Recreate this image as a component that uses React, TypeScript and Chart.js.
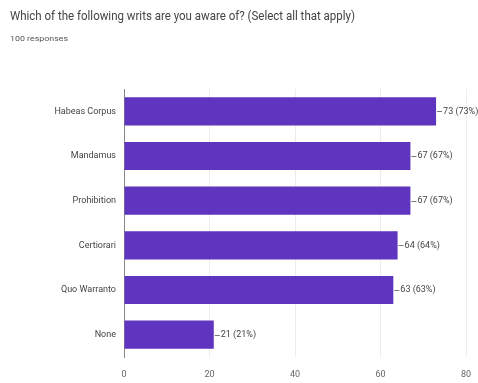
import React, { useEffect, useRef } from "react";
import { Chart, registerables } from "chart.js";

Chart.register(...registerables);

const titleText = "Which of the following writs are you aware of? (Select all that apply)";
const subtitleText = "100 responses";
const categories = ["Habeas Corpus", "Mandamus", "Prohibition", "Certiorari", "Quo Warranto", "None"];
const counts = [73, 67, 67, 64, 63, 21];
const percents = [73, 67, 67, 64, 63, 21];
const xTicks = [0, 20, 40, 60, 80];

const FONT = "'Roboto', 'Liberation Sans', sans-serif";
const BAR = "#5f35bf";

const textPlugin = {
  id: "texts",
  afterDraw(chart: any) {
    const ctx = chart.ctx;
    ctx.save();
    ctx.fillStyle = "#444";
    ctx.textBaseline = "middle";
    ctx.textAlign = "left";
    ctx.font = `13px ${FONT}`;
    const tw = ctx.measureText(titleText).width;
    ctx.save();
    ctx.translate(10, 17);
    ctx.scale(345 / tw, 1);
    ctx.fillText(titleText, 0, 0);
    ctx.restore();
    ctx.fillStyle = "#555";
    ctx.font = `8px ${FONT}`;
    const sw = ctx.measureText(subtitleText).width;
    ctx.save();
    ctx.translate(10, 39);
    ctx.scale(58 / sw, 1);
    ctx.fillText(subtitleText, 0, 0);
    ctx.restore();

    const meta = chart.getDatasetMeta(0);
    ctx.font = `9px ${FONT}`;
    ctx.fillStyle = "#444";
    ctx.strokeStyle = "#777";
    ctx.lineWidth = 1;
    meta.data.forEach((bar: any, i: number) => {
      const x = bar.x;
      const y = bar.y;
      ctx.beginPath();
      ctx.moveTo(x + 1, Math.round(y) + 0.5);
      ctx.lineTo(x + 6, Math.round(y) + 0.5);
      ctx.stroke();
      ctx.fillText(`${counts[i]} (${percents[i]}%)`, x + 7, y);
    });
    ctx.restore();
  },
};

export default function App() {
  const ref = useRef<HTMLCanvasElement | null>(null);
  useEffect(() => {
    if (!ref.current) return;
    const chart = new Chart(ref.current, {
      type: "bar",
      data: {
        labels: categories,
        datasets: [
          {
            data: counts,
            backgroundColor: BAR,
            borderWidth: 0,
            barPercentage: 0.63,
            categoryPercentage: 1,
          },
        ],
      },
      options: {
        indexAxis: "y",
        animation: false,
        responsive: true,
        maintainAspectRatio: false,
        layout: { padding: { top: 89, right: 12, left: 0, bottom: 0 } },
        plugins: {
          legend: { display: false },
          tooltip: { enabled: false },
          title: { display: false },
        },
        scales: {
          x: {
            min: 0,
            max: 80,
            afterBuildTicks: (scale: any) => {
              scale.ticks = xTicks.map((v) => ({ value: v }));
            },
            afterFit: (scale: any) => {
              scale.height = 26;
              scale.paddingRight = 0;
              scale.paddingLeft = 0;
            },
            grid: { color: "#ececec", drawTicks: false },
            border: { display: false },
            ticks: {
              padding: 12,
              color: "#666",
              font: { family: FONT, size: 9 },
            },
          },
          y: {
            afterFit: (scale: any) => {
              scale.width = 124;
            },
            grid: { display: false, drawTicks: false },
            border: { display: true, color: "#888", width: 1 },
            ticks: {
              padding: 8,
              color: "#444",
              font: { family: FONT, size: 9 },
            },
          },
        },
      },
      plugins: [textPlugin],
    });
    return () => chart.destroy();
  }, []);
  return (
    <div style={{ position: "fixed", left: 0, top: 0, width: 478, height: 383, background: "#fff" }}>
      <canvas ref={ref} />
    </div>
  );
}
